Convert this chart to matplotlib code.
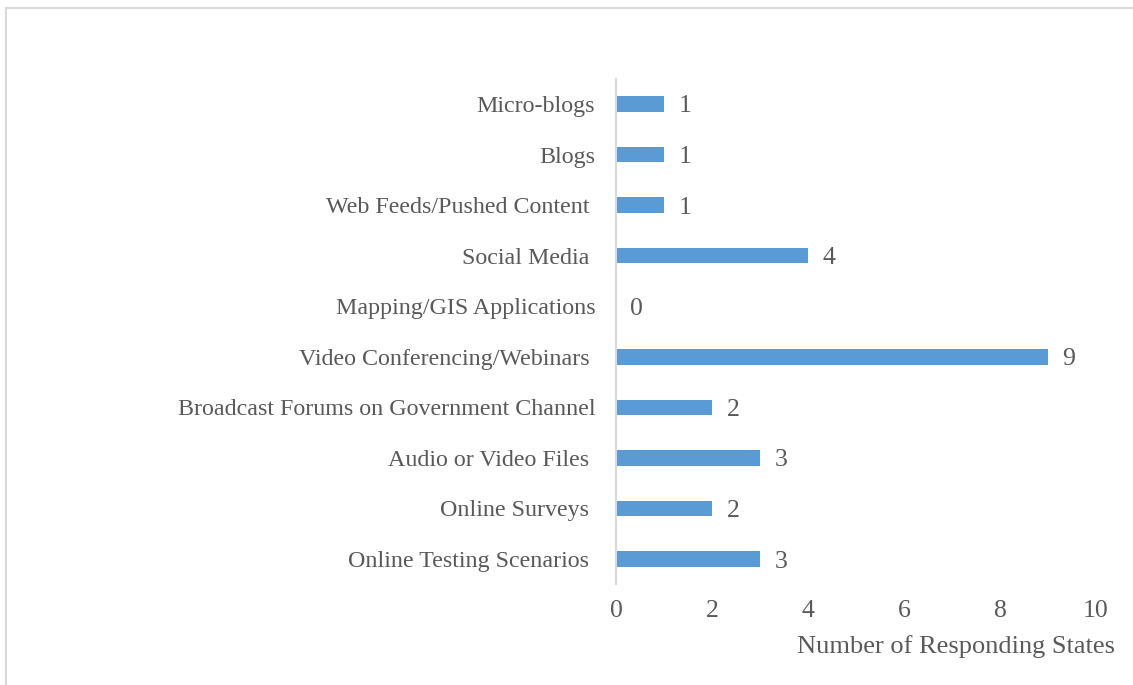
import matplotlib
matplotlib.use('Agg')
import matplotlib.pyplot as plt
from matplotlib.patches import Rectangle

## ============================================================
## 데이터
## ============================================================
categories = ['Online Testing Scenarios ', 'Online Surveys ', 'Audio or Video Files ',
              'Broadcast Forums on Government Channel', 'Video Conferencing/Webinars ',
              'Mapping/GIS Applications', 'Social Media ', 'Web Feeds/Pushed Content ',
              'Blogs', 'Micro-blogs']
values = [3, 2, 3, 2, 9, 0, 4, 1, 1, 1]
xticks = [0, 2, 4, 6, 8, 10]
xlabel = 'Number of Responding States'

W, H = 1133, 685
plt.rcParams['font.family'] = ['Liberation Serif', 'DejaVu Serif']
txt = '#595959'

fig = plt.figure(figsize=(W / 100, H / 100), dpi=100)
ax = fig.add_axes([616 / W, 1 - 584.3 / H, 480 / W, (584.3 - 78.7) / H])

y = range(len(categories))
ax.barh(y, values, height=0.31, color='#5b9bd5')
for yi, v in zip(y, values):
    ax.text(v + 0.3, yi, str(v), va='center_baseline', ha='left', fontsize=18.5, color=txt)

ax.set_xlim(0, 10)
ax.set_ylim(-0.5, len(categories) - 0.5)
ax.set_xticks(xticks)
ax.set_xticklabels([str(t) for t in xticks], fontsize=18.5, color=txt)
ax.set_yticks(list(y))
ax.set_yticklabels(categories, fontsize=17.3, color=txt)
ax.tick_params(axis='both', length=0)
ax.tick_params(axis='x', pad=11)
ax.tick_params(axis='y', pad=15)

for s in ['top', 'right', 'bottom']:
    ax.spines[s].set_visible(False)
ax.spines['left'].set_color('#d9d9d9')
ax.spines['left'].set_linewidth(1.5)

fig.text(1115 / W, 1 - 647 / H, xlabel, ha='right', va='center', fontsize=19, color=txt)

# 바깥 테두리
fig.patches.append(Rectangle((6 / W, -0.1), 1.2, 1 - 8 / H + 0.1, transform=fig.transFigure,
                             fill=False, edgecolor='#d9d9d9', linewidth=1.5))

fig.savefig('out.png', dpi=100)
